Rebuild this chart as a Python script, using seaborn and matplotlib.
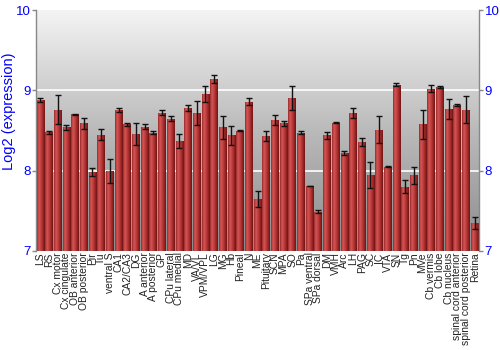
import numpy as np
import pandas as pd
import matplotlib
matplotlib.use("Agg")
import matplotlib.pyplot as plt
import seaborn as sns
from matplotlib.colors import LinearSegmentedColormap

regions = ["LS", "RS", "Cx motor", "Cx cingulate", "OB anterior", "OB posterior", "Pir", "Tu",
           "ventral S", "CA1", "CA2/CA3", "DG", "A anterior", "A posterior", "GP", "CPu lateral",
           "CPu medial", "MD", "VA/VL", "VPM/VPL", "LG", "MG", "Hb", "Pineal", "N", "ME",
           "Pituitary", "SCN", "MPA", "SO", "Pa", "SPa ventral", "SPa dorsal", "DM", "VMH", "Arc",
           "LH", "PAG", "SC", "IC", "VTA", "SN", "Tg", "Pn", "MVe", "Cb vermis", "Cb lobe",
           "Cb nucleus", "spinal cord anterior", "spinal cord posterior", "Retina"]
expression = [8.88, 8.48, 8.76, 8.54, 8.70, 8.59, 7.98, 8.45,
              8.00, 8.76, 8.58, 8.46, 8.55, 8.475, 8.72, 8.65,
              8.37, 8.78, 8.72, 8.95, 9.14, 8.54, 8.44, 8.50, 8.86, 7.65,
              8.43, 8.63, 8.59, 8.90, 8.475, 7.81, 7.49, 8.44, 8.60, 8.22,
              8.72, 8.36, 7.95, 8.51, 8.05, 9.07, 7.80, 7.94, 8.58, 9.02, 9.04,
              8.77, 8.82, 8.76, 7.35]
error = [0.03, 0.02, 0.18, 0.03, 0.01, 0.07, 0.05, 0.065,
         0.15, 0.025, 0.02, 0.14, 0.03, 0.02, 0.03, 0.03,
         0.09, 0.04, 0.15, 0.10, 0.05, 0.14, 0.12, 0.01, 0.04, 0.10,
         0.06, 0.06, 0.03, 0.15, 0.02, 0.005, 0.02, 0.04, 0.01, 0.03,
         0.06, 0.05, 0.16, 0.17, 0.01, 0.02, 0.08, 0.11, 0.18, 0.045, 0.015,
         0.12, 0.01, 0.17, 0.075]
y_ticks = [7, 8, 9, 10]

df = pd.DataFrame({"region": regions, "expr": expression, "err": error})

sns.set_style("white")
plt.rcParams['font.family'] = ['Liberation Sans', 'DejaVu Sans']

fig = plt.figure(figsize=(5, 3.5), dpi=100)
ax = fig.add_axes([0.072, 0.283, 0.886, 0.688])

# background gradient
bg = LinearSegmentedColormap.from_list("bg", ["#f4f4f4", "#bababa", "#8c8c8c"])
grad = np.linspace(0, 1, 256).reshape(-1, 1)
ax.imshow(grad, cmap=bg, aspect="auto", extent=[0, 1, 0, 1], transform=ax.transAxes, zorder=0)

sns.barplot(data=df, x="region", y="expr", color="#b23a3a", width=0.88, ax=ax,
            errorbar=None, zorder=2, linewidth=0)
ax.set_ylim(7, 10)
ax.set_xlim(-0.5, len(regions) - 0.5)

# cylinder gradient on bars
barcm = LinearSegmentedColormap.from_list("bar", ["#9a2a2a", "#d45656", "#c04040", "#a02828", "#6e1414"])
hgrad = np.linspace(0, 1, 64).reshape(1, -1)
for p in ax.patches:
    x0 = p.get_x()
    w, h = p.get_width(), p.get_height()
    im = ax.imshow(hgrad, cmap=barcm, aspect="auto", extent=[x0, x0 + w, 7, p.get_y() + h], zorder=2.5)
    im.set_clip_path(p)

ax.errorbar(np.arange(len(regions)), df["expr"], yerr=df["err"], fmt="none",
            ecolor="#111111", elinewidth=1, capsize=2.2, capthick=1, zorder=4)

for yv in [8, 9]:
    ax.axhline(yv, color="white", lw=1.2, zorder=1)

ax.set_yticks(y_ticks)
ax.set_yticklabels([str(t) for t in y_ticks], color="#0000ff", fontsize=9.5)
ax.tick_params(axis="y", which="both", left=True, right=True, labelleft=True, labelright=True,
               length=3, width=1, color="#888888", pad=1)
ax.tick_params(axis="x", length=0, pad=1)
ax.set_xticks(np.arange(len(regions)))
ax.set_xticklabels(regions, rotation=90, fontsize=7.4, color="#222222")
ax.set_xlabel("")
ax.set_ylabel("Log2 (expression)", color="#0000ff", fontsize=10.5)
ax.yaxis.set_label_coords(-0.046, 0.58)

for s in ["top", "bottom"]:
    ax.spines[s].set_visible(False)
for s in ["left", "right"]:
    ax.spines[s].set_color("#888888")
    ax.spines[s].set_linewidth(1)

fig.savefig("out.png", dpi=100)
